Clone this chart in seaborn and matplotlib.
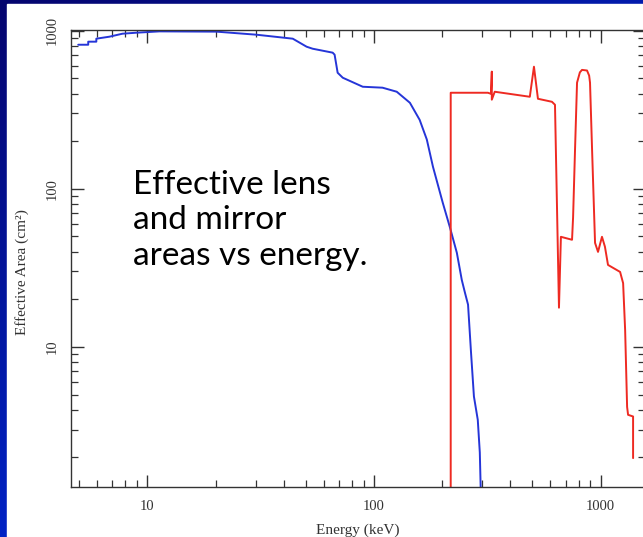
import matplotlib
matplotlib.use("Agg")
import matplotlib.pyplot as plt
import numpy as np
import pandas as pd
import seaborn as sns
from matplotlib.patches import Rectangle
from matplotlib.ticker import LogLocator, NullFormatter, FixedLocator, FixedFormatter

# mirror effective area (blue)
mirror_energy = [4.95, 5.48, 5.48, 5.95, 5.95, 6.79, 7.76, 8.94, 11.3, 20.2, 30.3, 43.8, 50.4,
                 53.6, 65.7, 67.0, 69.1, 72.8, 89.2, 109, 126, 144, 159, 171, 182, 201, 216,
                 232, 244, 252, 260, 268, 276, 287, 293, 296]
mirror_area = [815, 815, 852, 852, 890, 916, 957, 971, 990, 986, 943, 890, 792,
               769, 726, 705, 542, 504, 442, 436, 411, 350, 273, 205, 138, 81.8, 57.4,
               39.4, 26.5, 22.0, 18.5, 9.21, 4.86, 3.46, 2.15, 1.2]

# lens effective area (red)
lens_energy = [218, 218, 318, 328, 331, 331, 341, 487, 508, 529, 610, 629, 655, 668, 748,
               756, 771, 787, 810, 828, 871, 890, 898, 917, 945, 974, 1014, 1045, 1078, 1219,
               1257, 1283, 1309, 1322, 1391, 1391]
lens_area = [1.2, 405, 405, 399, 551, 366, 411, 382, 592, 371, 355, 340, 17.7, 49.7, 47.6,
             66, 176, 469, 545, 565, 560, 520, 469, 176, 45.5, 39.9, 49.7, 43.0, 33.0, 29.8,
             25.3, 12.8, 4.17, 3.72, 3.63, 1.98]

x_ticks = [10, 100, 1000]
x_tick_labels = ["10", "100", "1000"]
y_ticks = [10, 100, 1000]
y_tick_labels = ["10", "100", "1000"]

mirror = pd.DataFrame({"energy": mirror_energy, "area": mirror_area})
lens = pd.DataFrame({"energy": lens_energy, "area": lens_area})

sns.set_style("ticks")
plt.rcParams["font.family"] = ["Liberation Serif", "DejaVu Serif"]

W, H = 643, 537
fig = plt.figure(figsize=(W / 100, H / 100), dpi=100)

# slide background: blue gradient with white panel
bg = fig.add_axes([0, 0, 1, 1], zorder=-10)
gx, gy = np.meshgrid(np.linspace(0, 1, 200), np.linspace(0, 1, 200))
t = np.clip(0.55 * gx + 0.75 * gy, 0, 1)
navy = np.array([5, 5, 110]) / 255
blue = np.array([0, 45, 225]) / 255
img = navy[None, None, :] * (1 - t[..., None]) + blue[None, None, :] * t[..., None]
bg.imshow(img, extent=[0, 1, 0, 1], origin="upper", aspect="auto")
bg.add_patch(Rectangle((7 / W, 0), 1, (H - 4) / H, color="white", transform=bg.transAxes))
bg.set_xlim(0, 1)
bg.set_ylim(0, 1)
bg.axis("off")

ax = fig.add_axes([71 / W, 1 - 487 / H, (645 - 71) / W, (487 - 30) / H])
ax.set_facecolor("white")
sns.lineplot(data=mirror, x="energy", y="area", estimator=None, sort=False,
             color="#2535d8", linewidth=1.4, ax=ax)
sns.lineplot(data=lens, x="energy", y="area", estimator=None, sort=False,
             color="#ee2a22", linewidth=1.4, ax=ax)

ax.set_xscale("log")
ax.set_yscale("log")
ax.set_xlim(4.6, 1570)
ax.set_ylim(1.3, 1010)

ax.xaxis.set_major_locator(FixedLocator(x_ticks))
ax.xaxis.set_major_formatter(FixedFormatter(x_tick_labels))
ax.yaxis.set_major_locator(FixedLocator(y_ticks))
ax.yaxis.set_major_formatter(FixedFormatter(y_tick_labels))
ax.xaxis.set_minor_locator(LogLocator(base=10, subs=np.arange(2, 10)))
ax.yaxis.set_minor_locator(LogLocator(base=10, subs=np.arange(2, 10)))
ax.xaxis.set_minor_formatter(NullFormatter())
ax.yaxis.set_minor_formatter(NullFormatter())

for s in ax.spines.values():
    s.set_visible(True)
    s.set_color("#333333")
    s.set_linewidth(1.0)

ax.tick_params(which="both", direction="in", top=True, right=True, color="#333333",
               labelcolor="#333333", labelsize=10.5)
ax.tick_params(which="major", length=9, width=1.0)
ax.tick_params(which="minor", length=5, width=0.9)
ax.tick_params(axis="x", pad=9)
ax.tick_params(axis="y", pad=9)
for lab in ax.get_yticklabels():
    lab.set_rotation(90)
    lab.set_va("center")

ax.set_xlabel("Energy (keV)", fontsize=11, color="#333333", labelpad=8)
ax.set_ylabel("Effective Area (cm²)", fontsize=11, color="#333333")
ax.yaxis.set_label_coords(-0.074, 0.47)

fig.text(133 / W, 1 - 170 / H, "Effective lens\nand mirror\nareas vs energy.",
         family=["Lato", "DejaVu Sans"], fontsize=24, color="black",
         ha="left", va="top", linespacing=1.22)

fig.savefig("out.png", dpi=100)
plt.close(fig)
